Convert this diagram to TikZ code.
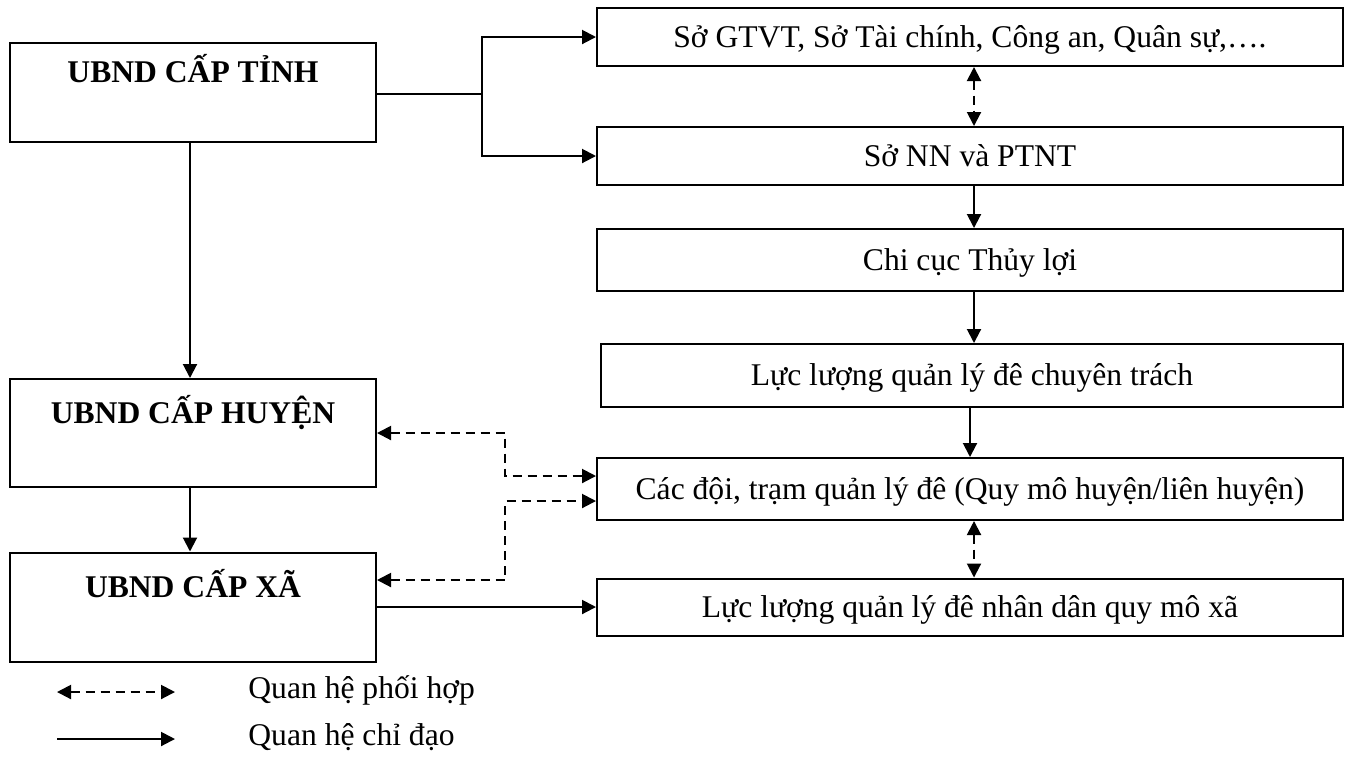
\documentclass[tikz,border=0pt]{standalone}
\usepackage{fontspec}
\setmainfont{Liberation Serif}
\usetikzlibrary{arrows.meta,calc}

\begin{document}
\begin{tikzpicture}[
  x=0.5pt,y=-0.5pt,
  font=\fontsize{15.8}{19}\selectfont,
  lv/.style={draw,line width=1pt,inner sep=0pt,minimum width=183pt,
    font=\fontsize{15.8}{19}\selectfont\bfseries,text height=12pt,text depth=22pt},
  rv/.style={draw,line width=1pt,inner sep=0pt,minimum width=373pt,
    text height=12pt,text depth=2pt},
  e/.style={line width=1pt},
  dir/.style={line width=1pt,-{Triangle[length=7pt,width=7pt]}},
  co/.style={line width=1pt,dash pattern=on 4.5pt off 3pt,
    {Triangle[length=7pt,width=7pt]}-{Triangle[length=7pt,width=7pt]}},
  key/.style={anchor=west,inner sep=0pt}
]
\useasboundingbox (0,0) rectangle (1352,757);

%%%%%%%%%%%%%%%%%%%%%%%%%%%%%%%%%%%%%%%%%%%%%%%%%%%%
% Left column: UBND
%%%%%%%%%%%%%%%%%%%%%%%%%%%%%%%%%%%%%%%%%%%%%%%%%%%%
\node[lv,minimum height=49.5pt] (L1) at (193,92) {UBND CẤP TỈNH};
\node[lv,minimum height=54pt] (L2) at (193,433) {UBND CẤP HUYỆN};
\node[lv,minimum height=54.5pt] (L3) at (193,607) {UBND CẤP XÃ};

\draw[dir] ([xshift=-1.5pt]L1.south) -- ([xshift=-1.5pt]L2.north);
\draw[dir] ([xshift=-1.5pt]L2.south) -- ([xshift=-1.5pt]L3.north);

%%%%%%%%%%%%%%%%%%%%%%%%%%%%%%%%%%%%%%%%%%%%%%%%%%%%
% Right column
%%%%%%%%%%%%%%%%%%%%%%%%%%%%%%%%%%%%%%%%%%%%%%%%%%%%
\node[rv,minimum height=29pt] (R1) at (970,37) {Sở GTVT, Sở Tài chính, Công an, Quân sự,….};
\node[rv,minimum height=29pt] (R2) at (970,156) {Sở NN và PTNT};
\node[rv,minimum height=31pt] (R3) at (970,260) {Chi cục Thủy lợi};
\node[rv,minimum height=31.5pt,minimum width=371pt] (R4) at (972,375.5) {Lực lượng quản lý đê chuyên trách};
\node[rv,minimum height=31pt] (R5) at (970,489) {Các đội, trạm quản lý đê (Quy mô huyện/liên huyện)};
\node[rv,minimum height=28.5pt] (R6) at (970,607) {Lực lượng quản lý đê nhân dân quy mô xã};

\draw[co] ([xshift=2pt]R1.south) -- ([xshift=2pt]R2.north);
\draw[dir] ([xshift=2pt]R2.south) -- ([xshift=2pt]R3.north);
\draw[dir] ([xshift=2pt]R3.south) -- ([xshift=2pt]R3.south |- R4.north);
\draw[dir] (R4.south -| R5.north) -- (R5.north);
\draw[co] ([xshift=2pt]R5.south) -- ([xshift=2pt]R6.north);

%%%%%%%%%%%%%%%%%%%%%%%%%%%%%%%%%%%%%%%%%%%%%%%%%%%%
% Links between the columns
%%%%%%%%%%%%%%%%%%%%%%%%%%%%%%%%%%%%%%%%%%%%%%%%%%%%
\coordinate (B) at (482,94);
\draw[e] (L1.east |- B) -- (B);
\draw[dir] (B) |- (R1.west);
\draw[dir] (B) |- (R2.west);

\draw[co] (L2.east) -| ($(R5.west)+(-91,-13)$) -- ($(R5.west)+(0,-13)$);
\draw[co] ($(L3.east)+(0,-27)$) -| ($(R5.west)+(-91,12)$) -- ($(R5.west)+(0,12)$);
\draw[dir] (L3.east) -- (R6.west);

%%%%%%%%%%%%%%%%%%%%%%%%%%%%%%%%%%%%%%%%%%%%%%%%%%%%
% Legend
%%%%%%%%%%%%%%%%%%%%%%%%%%%%%%%%%%%%%%%%%%%%%%%%%%%%
\coordinate (K1a) at (57,692);
\coordinate (K1b) at (175,692);
\coordinate (K2a) at (57,739);
\coordinate (K2b) at (175,739);
\draw[co] (K1a) -- (K1b);
\draw[dir] (K2a) -- (K2b);
\node[key] (K1) at (248,690) {Quan hệ phối hợp};
\node[key] (K2) at (248,737) {Quan hệ chỉ đạo};

\end{tikzpicture}
\end{document}
